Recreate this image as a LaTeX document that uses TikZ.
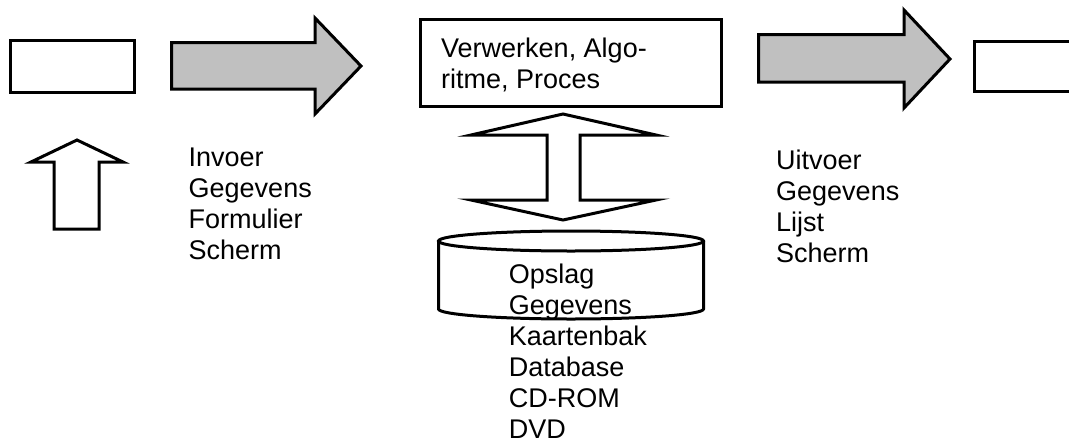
\documentclass[tikz,border=0pt]{standalone}
\usepackage{fontspec}
\setmainfont{Liberation Sans}
\definecolor{arrowgray}{HTML}{C0C0C0}
\tikzset{
  outline/.style={draw=black, line width=3pt, line join=miter},
  box/.style={outline, rectangle, fill=white, inner sep=0pt},
  blockarrow/.style={outline, fill=arrowgray},
  hollowarrow/.style={outline, fill=white},
  listtext/.style={anchor=north west, inner sep=0pt, align=left,
    font=\fontsize{27}{31}\selectfont}
}
\begin{document}
\begin{tikzpicture}[x=1pt, y=-1pt]
  \useasboundingbox (0,0) rectangle (1069,445);

  % input, process and output boxes
  \node[box, minimum width=124pt, minimum height=52pt] (invoer) at (72.5,66.5) {};
  \node[box, minimum width=301pt, minimum height=87pt] (proces) at (571,63) {};
  \node[box, minimum width=116pt, minimum height=50pt] (uitvoer) at (1032.5,66.5) {};

  % grey block arrows between the boxes
  \draw[blockarrow] (171.5,42.5) -- (315,42.5) -- (315,18) -- (361,66)
    -- (315,114) -- (315,89) -- (171.5,89) -- cycle;
  \draw[blockarrow] (758.5,34.5) -- (904,34.5) -- (904,10) -- (950,59)
    -- (904,108) -- (904,82) -- (758.5,82) -- cycle;

  % hollow arrow pointing up to the input box
  \draw[hollowarrow] (77,140) -- (123,162) -- (99,162) -- (99,229)
    -- (54,229) -- (54,162) -- (31,162) -- cycle;

  % double arrow between process and storage
  \draw[hollowarrow] (563,114) -- (656,135) -- (580,135) -- (580,200)
    -- (656,200) -- (563,220) -- (471,200) -- (547,200) -- (547,135)
    -- (471,135) -- cycle;

  % storage cylinder
  \coordinate (opslag) at (571,275);
  \draw[outline, fill=white] (438.5,241) -- (438.5,309)
    arc[start angle=180, end angle=360, x radius=132.5pt, y radius=10pt]
    -- (703.5,241);
  \draw[outline] (571,241) ellipse[x radius=132.5pt, y radius=10pt];

  % texts
  \node[listtext] (procestekst) at (441,37.7)
    {Verwerken, Algo-\\ritme, Proces};
  \node[listtext] (invoertekst) at (188.5,147.7)
    {Invoer\\Gegevens\\Formulier\\Scherm};
  \node[listtext] (uitvoertekst) at (776,150)
    {Uitvoer\\Gegevens\\Lijst\\Scherm};
  \node[listtext] (opslagtekst) at (508.7,263.3)
    {Opslag\\Gegevens\\Kaartenbak\\Database\\CD-ROM\\DVD};
\end{tikzpicture}
\end{document}
